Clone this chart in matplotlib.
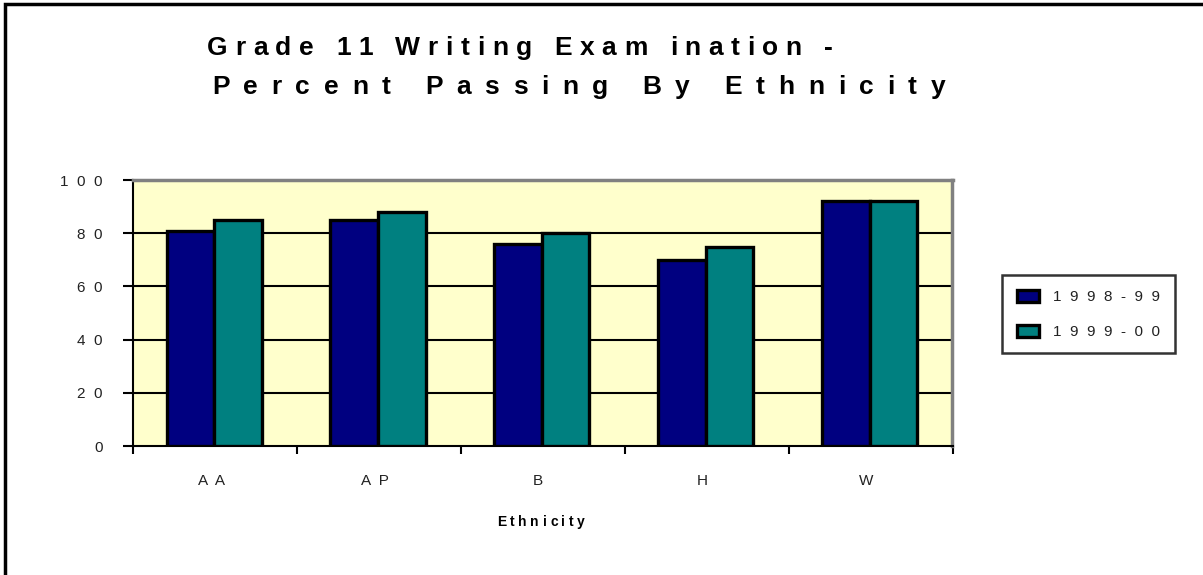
import numpy as np
import matplotlib.pyplot as plt
from matplotlib.patches import Rectangle

categories = ['AA', 'AP', 'B', 'H', 'W']
years = ['1998-99', '1999-00']
pass_9899 = [81, 85, 76, 70, 92]
pass_9900 = [85, 88, 80, 75, 92]
yticks = [0, 20, 40, 60, 80, 100]

W, H = 1203, 575


def spaced(s, gap='  '):
    # Excel-style letter spacing
    return gap.join(s)


def tracked_text(fig, s, x0, x1, y, **kw):
    # lay out characters one by one so the line spans x0..x1 pixels
    r = fig.canvas.get_renderer()

    def width(txt):
        t = fig.text(0, 0, txt, **kw)
        w = t.get_window_extent(r).width
        t.remove()
        return w

    space = width('a a') - width('aa')
    widths = [space if c == ' ' else width(c) for c in s]
    track = (x1 - x0 - sum(widths)) / (len(s) - 1)
    x = x0
    for c, w in zip(s, widths):
        if c != ' ':
            fig.text(x / W, 1 - y / H, c, ha='left', va='center', **kw)
        x += w + track


plt.rcParams['font.family'] = ['Liberation Sans', 'DejaVu Sans']

fig = plt.figure(figsize=(W / 100, H / 100), dpi=100)
fig.patch.set_facecolor('white')

# chart frame (runs off the right and bottom edges)
fig.patches.append(Rectangle((5 / W, -0.1), 1.2, 1 - 4 / H + 0.1,
                             transform=fig.transFigure, fill=False,
                             edgecolor='black', linewidth=2.5))

ax = fig.add_axes([133 / W, 1 - 446 / H, 819.5 / W, 266 / H])
ax.set_facecolor('#FFFFCC')

x = np.arange(len(categories))
w = 0.29
ax.bar(x - 0.15, pass_9899, w, color='#000080', edgecolor='black',
       linewidth=2.4, label=spaced(years[0]), zorder=3)
ax.bar(x + 0.14, pass_9900, w, color='#008080', edgecolor='black',
       linewidth=2.4, label=spaced(years[1]), zorder=3)

ax.set_xlim(-0.5, len(categories) - 0.5)
ax.set_ylim(0, 100)
ax.set_yticks(yticks)
ax.set_yticklabels([spaced(str(v)) for v in yticks], fontsize=11, color='#222222')
for v in yticks[1:-1]:
    ax.axhline(v, color='black', linewidth=1.5, zorder=1)

ax.set_xticks(x)
ax.set_xticklabels([spaced(c) + '  ' for c in categories], fontsize=11,
                   color='#222222')
ax.tick_params(axis='x', length=0, pad=20)
ax.set_xticks(np.arange(len(categories) + 1) - 0.5, minor=True)
ax.tick_params(axis='x', which='minor', length=6, width=1.5, direction='out')
ax.tick_params(axis='y', length=7, width=1.5, direction='out', pad=15)

for side in ['top', 'right']:
    ax.spines[side].set_color('#808080')
    ax.spines[side].set_linewidth(2.5)
for side in ['left', 'bottom']:
    ax.spines[side].set_color('black')
    ax.spines[side].set_linewidth(1.5)

tracked_text(fig, 'Ethnicity', 497, 585, 522, fontsize=10, fontweight='bold')

tracked_text(fig, 'Grade 11 Writing Exam ination -', 207, 833, 48,
             fontsize=19, fontweight='bold')
tracked_text(fig, 'Percent Passing By Ethnicity', 212, 945, 87,
             fontsize=19, fontweight='bold')

leg = fig.legend(loc='upper left', bbox_to_anchor=(1002 / W, 1 - 275 / H),
                 fontsize=11, frameon=True, fancybox=False, edgecolor='black',
                 handlelength=1.5, handleheight=0.85, borderpad=0.95,
                 labelspacing=1.35, handletextpad=0.9, borderaxespad=0)
leg.get_frame().set_linewidth(1.8)
for t in leg.get_texts():
    t.set_color('#222222')

fig.savefig('out.png', dpi=100)
